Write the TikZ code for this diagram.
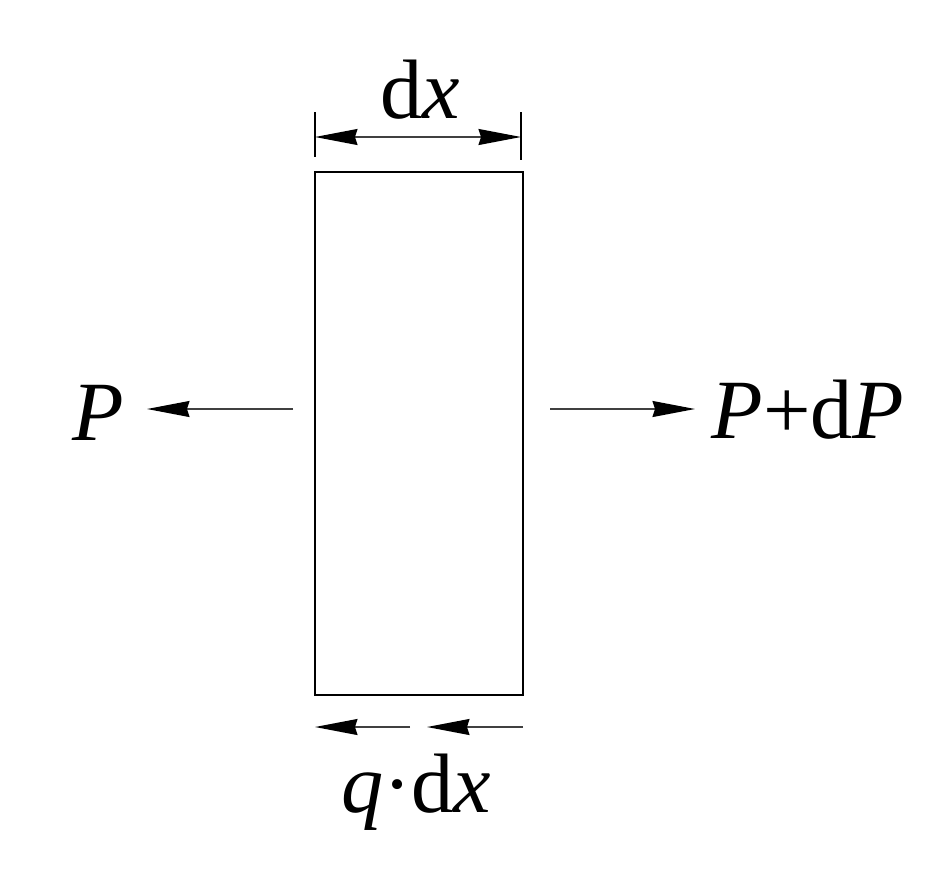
\documentclass[tikz,border=0pt]{standalone}
\usepackage{fontspec}
\setmainfont{Liberation Serif}
\usepackage{tikz}
\usetikzlibrary{arrows.meta}
\tikzset{
  >={Stealth[length=0.85cm,width=0.32cm,inset=0.05cm,black]},
  elem/.style={draw=black, line width=1.1pt, line join=miter},
  force/.style={draw=black!75, line width=0.9pt, ->},
  dim/.style={draw=black!75, line width=0.9pt, <->},
  tick/.style={draw=black, line width=1.1pt},
  lab/.style={font=\fontsize{48}{55}\selectfont, inner sep=0pt, anchor=base},
}

\begin{document}
\begin{tikzpicture}[x=0.02cm,y=-0.02cm]
  \useasboundingbox (0,0) rectangle (935,879);
  % element of length dx
  \coordinate (BL) at (315,695);
  \coordinate (TR) at (523,172);
  \draw[elem] (BL) rectangle (TR);
  % dimension dx
  \coordinate (t1a) at (315,112); \coordinate (t1b) at (315,157);
  \coordinate (t2a) at (521,112); \coordinate (t2b) at (521,160);
  \draw[tick] (t1a)--(t1b) (t2a)--(t2b);
  \coordinate (d1) at (315,137);
  \coordinate (d2) at (521,137);
  \draw[dim] (d1)--(d2);
  \node[lab] (dx) at (420,118) {d\textit{x}};
  % axial forces
  \node[lab] (P) at (98,440) {\textit{P}};
  \node[lab] (PdP) at (808,438) {\textit{P}+d\textit{P}};
  \coordinate (Ls) at (293,409); \coordinate (Lt) at (147,409);
  \coordinate (Rs) at (550,409); \coordinate (Rt) at (695,409);
  \draw[force] (Ls)--(Lt);
  \draw[force] (Rs)--(Rt);
  % shear q dx
  \coordinate (q1s) at (410,727); \coordinate (q1t) at (315,727);
  \coordinate (q2s) at (523,727); \coordinate (q2t) at (427,727);
  \draw[force] (q1s)--(q1t);
  \draw[force] (q2s)--(q2t);
  \node[lab] (qdx) at (416,812) {\textit{q}\textperiodcentered d\textit{x}};
\end{tikzpicture}
\end{document}
